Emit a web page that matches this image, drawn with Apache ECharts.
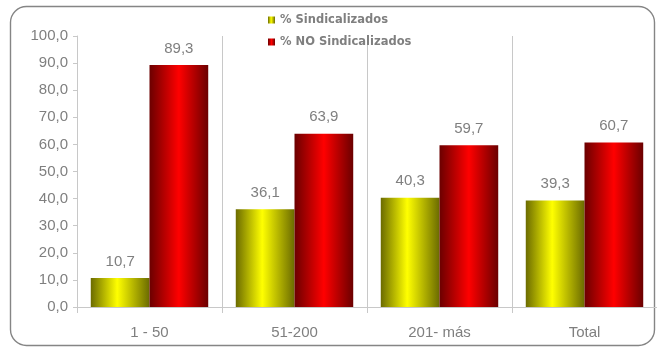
<!DOCTYPE html>
<html>
<head>
<meta charset="utf-8">
<script src="https://cdn.jsdelivr.net/npm/echarts@6/dist/echarts.min.js"></script>
<style>
  html, body { margin: 0; padding: 0; background: #ffffff; }
  #chart { width: 657px; height: 349px; }
</style>
</head>
<body>
<div id="chart"></div>
<script>
// Company size bands and union membership shares (%)
const categories = ['1 - 50', '51-200', '201- más', 'Total'];
const sindicalizados = [10.7, 36.1, 40.3, 39.3];
const noSindicalizados = [89.3, 63.9, 59.7, 60.7];
const seriesNames = ['% Sindicalizados', '% NO Sindicalizados'];

const textGray = '#7f7f7f';
const lineGray = '#c8c8c8';
const fontFamily = 'Liberation Sans, Arial, sans-serif';

const fmt = v => Number(v).toFixed(1).replace('.', ',');

// Horizontal "cylinder" shading for the bars
function cylinder(dark, bright, peak) {
  return new echarts.graphic.LinearGradient(0, 0, 1, 0, [
    { offset: 0, color: dark },
    { offset: peak, color: bright },
    { offset: 1, color: dark }
  ]);
}

const valueLabel = {
  show: true,
  position: 'top',
  distance: 9,
  color: textGray,
  fontSize: 15,
  fontFamily: fontFamily,
  formatter: p => fmt(p.value)
};

const chart = echarts.init(document.getElementById('chart'), null, { renderer: 'canvas' });

chart.setOption({
  animation: false,
  textStyle: { fontFamily: fontFamily },
  graphic: [{
    type: 'rect',
    shape: { x: 10.5, y: 6.5, width: 644, height: 339, r: 16 },
    style: { fill: 'none', stroke: '#858585', lineWidth: 1.4 },
    z: 0
  }],
  legend: {
    orient: 'vertical',
    left: 263,
    top: 9,
    itemWidth: 7,
    itemHeight: 7,
    itemGap: 10,
    icon: 'rect',
    data: seriesNames,
    textStyle: { color: textGray, fontSize: 11.5, fontWeight: 'bold', fontFamily: 'DejaVu Sans, sans-serif' }
  },
  grid: { left: 77, right: 0, top: 36, bottom: 42, containLabel: false },
  xAxis: {
    type: 'category',
    data: categories,
    axisLine: { lineStyle: { color: lineGray } },
    axisTick: { show: true, length: 6, lineStyle: { color: lineGray } },
    splitLine: { show: true, lineStyle: { color: lineGray, width: 1 } },
    axisLabel: { color: textGray, fontSize: 15, margin: 18, fontFamily: fontFamily }
  },
  yAxis: {
    type: 'value',
    min: 0,
    max: 100,
    interval: 10,
    axisLine: { show: true, lineStyle: { color: lineGray } },
    axisTick: { show: true, length: 4, lineStyle: { color: lineGray } },
    splitLine: { show: false },
    axisLabel: { color: textGray, fontSize: 15, margin: 9, formatter: fmt, fontFamily: fontFamily }
  },
  series: [
    {
      name: seriesNames[0],
      type: 'bar',
      data: sindicalizados,
      barGap: '0%',
      barCategoryGap: '19%',
      itemStyle: { color: cylinder('#6b6b00', '#ffff00', 0.45) },
      label: valueLabel
    },
    {
      name: seriesNames[1],
      type: 'bar',
      data: noSindicalizados,
      barGap: '0%',
      barCategoryGap: '19%',
      itemStyle: { color: cylinder('#6b0000', '#ff0000', 0.5) },
      label: valueLabel
    }
  ]
});
</script>
</body>
</html>
